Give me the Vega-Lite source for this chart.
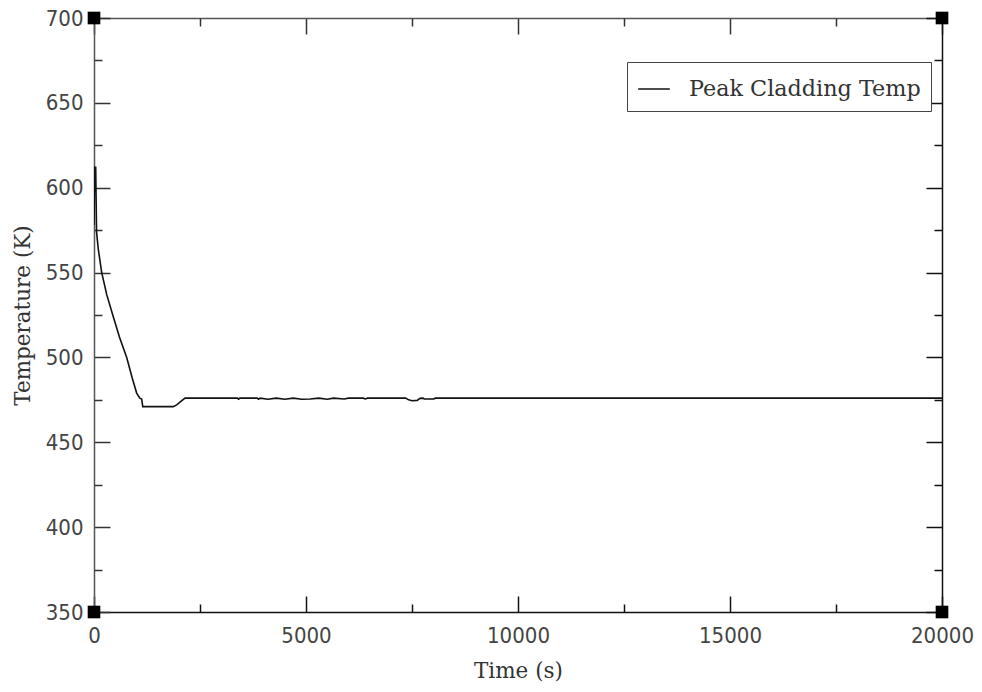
{
  "$schema": "https://vega.github.io/schema/vega-lite/v6.json",
  "width": 848,
  "height": 594,
  "autosize": "none",
  "padding": {"left": 94, "top": 18, "right": 40, "bottom": 80},
  "background": "white",
  "config": {"view": {"stroke": null}},
  "datasets": {
    "pct": [
      {"t": 0, "T": 578, "series": "Peak Cladding Temp"},
      {"t": 15, "T": 612, "series": "Peak Cladding Temp"},
      {"t": 40, "T": 612, "series": "Peak Cladding Temp"},
      {"t": 60, "T": 574, "series": "Peak Cladding Temp"},
      {"t": 100, "T": 564, "series": "Peak Cladding Temp"},
      {"t": 182, "T": 550, "series": "Peak Cladding Temp"},
      {"t": 300, "T": 537, "series": "Peak Cladding Temp"},
      {"t": 455, "T": 524, "series": "Peak Cladding Temp"},
      {"t": 600, "T": 512, "series": "Peak Cladding Temp"},
      {"t": 771, "T": 500, "series": "Peak Cladding Temp"},
      {"t": 900, "T": 488, "series": "Peak Cladding Temp"},
      {"t": 1006, "T": 479, "series": "Peak Cladding Temp"},
      {"t": 1080, "T": 476, "series": "Peak Cladding Temp"},
      {"t": 1124, "T": 475.5, "series": "Peak Cladding Temp"},
      {"t": 1150, "T": 471, "series": "Peak Cladding Temp"},
      {"t": 1870, "T": 471, "series": "Peak Cladding Temp"},
      {"t": 1950, "T": 472, "series": "Peak Cladding Temp"},
      {"t": 2146, "T": 476, "series": "Peak Cladding Temp"},
      {"t": 3380, "T": 476, "series": "Peak Cladding Temp"},
      {"t": 3410, "T": 475.4, "series": "Peak Cladding Temp"},
      {"t": 3440, "T": 476, "series": "Peak Cladding Temp"},
      {"t": 3850, "T": 476, "series": "Peak Cladding Temp"},
      {"t": 3880, "T": 475.4, "series": "Peak Cladding Temp"},
      {"t": 3920, "T": 476, "series": "Peak Cladding Temp"},
      {"t": 4100, "T": 475.4, "series": "Peak Cladding Temp"},
      {"t": 4300, "T": 476, "series": "Peak Cladding Temp"},
      {"t": 4500, "T": 475.4, "series": "Peak Cladding Temp"},
      {"t": 4700, "T": 476, "series": "Peak Cladding Temp"},
      {"t": 4900, "T": 475.4, "series": "Peak Cladding Temp"},
      {"t": 5100, "T": 475.5, "series": "Peak Cladding Temp"},
      {"t": 5300, "T": 476, "series": "Peak Cladding Temp"},
      {"t": 5500, "T": 475.4, "series": "Peak Cladding Temp"},
      {"t": 5650, "T": 476, "series": "Peak Cladding Temp"},
      {"t": 5900, "T": 475.5, "series": "Peak Cladding Temp"},
      {"t": 6000, "T": 476, "series": "Peak Cladding Temp"},
      {"t": 6350, "T": 476, "series": "Peak Cladding Temp"},
      {"t": 6400, "T": 475.5, "series": "Peak Cladding Temp"},
      {"t": 6450, "T": 476, "series": "Peak Cladding Temp"},
      {"t": 7350, "T": 476, "series": "Peak Cladding Temp"},
      {"t": 7420, "T": 475, "series": "Peak Cladding Temp"},
      {"t": 7500, "T": 474.5, "series": "Peak Cladding Temp"},
      {"t": 7620, "T": 474.7, "series": "Peak Cladding Temp"},
      {"t": 7690, "T": 475.9, "series": "Peak Cladding Temp"},
      {"t": 7760, "T": 476, "series": "Peak Cladding Temp"},
      {"t": 7790, "T": 475.5, "series": "Peak Cladding Temp"},
      {"t": 8010, "T": 475.5, "series": "Peak Cladding Temp"},
      {"t": 8050, "T": 476, "series": "Peak Cladding Temp"},
      {"t": 20000, "T": 476, "series": "Peak Cladding Temp"}
    ],
    "corners": [
      {"t": 0, "T": 350},
      {"t": 0, "T": 700},
      {"t": 20000, "T": 350},
      {"t": 20000, "T": 700}
    ]
  },
  "layer": [
    {
      "data": {"name": "pct"},
      "mark": {"type": "line", "strokeWidth": 1.6, "clip": true},
      "encoding": {
        "x": {
          "field": "t", "type": "quantitative",
          "scale": {"domain": [0, 20000], "nice": false, "zero": false},
          "axis": {
            "orient": "bottom",
            "title": "Time (s)",
            "values": [0, 5000, 10000, 15000, 20000],
            "format": "d",
            "grid": false,
            "domainColor": "#111", "domainWidth": 1.5,
            "tickColor": "#111", "tickWidth": 1.5, "tickSize": -16,
            "labelFont": "DejaVu Sans Condensed, Open Sans", "labelFontSize": 22, "labelColor": "#444",
            "labelPadding": 29, "labelFlush": false, "labelOverlap": false,
            "titleFont": "DejaVu Serif", "titleFontSize": 21.5, "titleFontWeight": "normal", "titleColor": "#333",
            "titlePadding": 14
          }
        },
        "y": {
          "field": "T", "type": "quantitative",
          "scale": {"domain": [350, 700], "nice": false, "zero": false},
          "axis": {
            "orient": "left",
            "title": "Temperature (K)",
            "values": [350, 400, 450, 500, 550, 600, 650, 700],
            "grid": false,
            "domainColor": "#555", "domainWidth": 1.5,
            "tickColor": "#333", "tickWidth": 1.5, "tickSize": -16,
            "labelFont": "DejaVu Sans Condensed, Open Sans", "labelFontSize": 22, "labelColor": "#444",
            "labelPadding": 27, "labelFlush": false, "labelOverlap": false,
            "titleFont": "DejaVu Serif", "titleFontSize": 21.5, "titleFontWeight": "normal", "titleColor": "#333",
            "titlePadding": 11
          }
        },
        "color": {
          "field": "series", "type": "nominal",
          "scale": {"range": ["#111"]},
          "legend": {
            "title": null,
            "orient": "none",
            "legendX": 533,
            "legendY": 44,
            "strokeColor": "#444",
            "fillColor": "white",
            "padding": 10,
            "symbolType": "stroke",
            "symbolSize": 1000,
            "symbolStrokeWidth": 1.5,
            "labelFont": "DejaVu Serif",
            "labelFontSize": 22.3,
            "labelColor": "#333",
            "labelLimit": 500,
            "labelOffset": 18
          }
        }
      }
    },
    {
      "data": {"name": "corners"},
      "mark": {"type": "point", "shape": "square", "filled": true, "size": 160, "color": "black", "opacity": 1, "clip": false},
      "encoding": {
        "x": {
          "field": "t", "type": "quantitative",
          "axis": {
            "orient": "top", "title": null,
            "values": [0, 5000, 10000, 15000, 20000],
            "labels": false, "grid": false,
            "domainColor": "#555", "domainWidth": 1.5,
            "tickColor": "#333", "tickWidth": 1.5, "tickSize": -16
          }
        },
        "y": {
          "field": "T", "type": "quantitative",
          "axis": {
            "orient": "right", "title": null,
            "values": [350, 400, 450, 500, 550, 600, 650, 700],
            "labels": false, "grid": false,
            "domainColor": "#111", "domainWidth": 1.5,
            "tickColor": "#111", "tickWidth": 1.5, "tickSize": -16
          }
        }
      }
    },
    {
      "data": {"name": "corners"},
      "mark": {"type": "point", "opacity": 0},
      "encoding": {
        "x": {
          "field": "t", "type": "quantitative",
          "axis": {
            "orient": "bottom", "title": null,
            "values": [2500, 7500, 12500, 17500],
            "labels": false, "grid": false, "domain": false,
            "tickColor": "#111", "tickWidth": 1.5, "tickSize": -8
          }
        },
        "y": {
          "field": "T", "type": "quantitative",
          "axis": {
            "orient": "left", "title": null,
            "values": [375, 425, 475, 525, 575, 625, 675],
            "labels": false, "grid": false, "domain": false,
            "tickColor": "#333", "tickWidth": 1.5, "tickSize": -8
          }
        }
      }
    },
    {
      "data": {"name": "corners"},
      "mark": {"type": "point", "opacity": 0},
      "encoding": {
        "x": {
          "field": "t", "type": "quantitative",
          "axis": {
            "orient": "top", "title": null,
            "values": [2500, 7500, 12500, 17500],
            "labels": false, "grid": false, "domain": false,
            "tickColor": "#333", "tickWidth": 1.5, "tickSize": -8
          }
        },
        "y": {
          "field": "T", "type": "quantitative",
          "axis": {
            "orient": "right", "title": null,
            "values": [375, 425, 475, 525, 575, 625, 675],
            "labels": false, "grid": false, "domain": false,
            "tickColor": "#111", "tickWidth": 1.5, "tickSize": -8
          }
        }
      }
    }
  ],
  "resolve": {"axis": {"x": "independent", "y": "independent"}}
}
